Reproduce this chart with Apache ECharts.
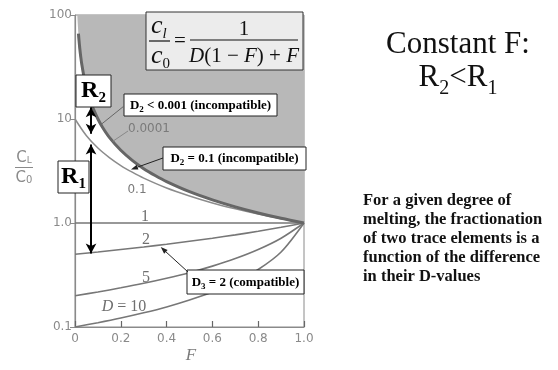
<!DOCTYPE html>
<html>
<head>
<meta charset="utf-8">
<script src="https://cdn.jsdelivr.net/npm/echarts@6/dist/echarts.min.js"></script>
<style>
  html, body { margin: 0; padding: 0; background: #fff; }
  #chart { width: 558px; height: 370px; }
</style>
</head>
<body>
<div id="chart"></div>
<script>
// Melt fraction F and C_L/C_0 for batch melting, one array per bulk D
const fSteep   = [0.015, 0.02, 0.025, 0.03, 0.04, 0.05, 0.06, 0.07, 0.08, 0.1, 0.12, 0.15, 0.2, 0.25, 0.3, 0.35, 0.4, 0.5, 0.6, 0.7, 0.8, 0.9, 1.0];
const dTiny    = [66.2, 49.8, 39.8, 33.2, 24.9, 20.0, 16.6, 14.3, 12.5, 9.99, 8.33, 6.66, 5.00, 4.00, 3.33, 2.86, 2.50, 2.00, 1.67, 1.43, 1.25, 1.11, 1.00];   // D = 0.0001
const dSmall   = [62.6, 47.7, 38.5, 32.3, 24.4, 19.6, 16.4, 14.1, 12.4, 9.91, 8.27, 6.63, 4.98, 3.99, 3.33, 2.85, 2.50, 2.00, 1.67, 1.43, 1.25, 1.11, 1.00];   // D = 0.001
const fTenth   = [0, 0.05, 0.1, 0.15, 0.2, 0.25, 0.3, 0.4, 0.5, 0.6, 0.7, 0.8, 0.9, 1.0];
const dTenth   = [10, 6.90, 5.26, 4.26, 3.57, 3.08, 2.70, 2.17, 1.82, 1.56, 1.37, 1.22, 1.10, 1.00];  // D = 0.1
const fUnit    = [0, 0.1, 0.2, 0.3, 0.4, 0.5, 0.6, 0.7, 0.8, 0.9, 1.0];
const dOne     = [1, 1, 1, 1, 1, 1, 1, 1, 1, 1, 1];
const dTwo     = [0.500, 0.526, 0.556, 0.588, 0.625, 0.667, 0.714, 0.769, 0.833, 0.909, 1.000];
const dFive    = [0.200, 0.217, 0.238, 0.263, 0.294, 0.333, 0.385, 0.455, 0.556, 0.714, 1.000];
const dTen     = [0.100, 0.110, 0.122, 0.137, 0.156, 0.182, 0.217, 0.270, 0.357, 0.526, 1.000];
// upper limit of C_L/C_0 (forbidden field above it)
const fLimit   = [0.01].concat(fSteep);
const dLimit   = [99.0].concat(dTiny);
// axis ticks
const xTicks   = ['0', '0.2', '0.4', '0.6', '0.8', '1.0'];
const yTicks   = { 0.1: '0.1', 1: '1.0', 10: '10', 100: '100' };
// fractionation spans at one melt fraction
const spanF    = 0.07;
const spanR2   = [13.0, 7.2];
const spanR1   = [5.7, 0.51];

const pairs = (xs, ys) => xs.map((x, i) => [x, ys[i]]);

const chart = echarts.init(document.getElementById('chart'), null, { renderer: 'canvas' });

const AX = '#8a8a8a';
const CURVE = '#777';

const curve = (data, color, width, z) => ({
  type: 'line', data, smooth: 0.3, showSymbol: false,
  symbol: 'none', silent: true, z: z || 3,
  lineStyle: { color, width }
});

chart.setOption({
  animation: false,
  grid: { left: 75, right: 254, top: 15, bottom: 43, show: true, borderColor: '#8a8a8a', borderWidth: 1, backgroundColor: 'transparent' },
  xAxis: {
    type: 'value', min: 0, max: 1, interval: 0.2,
    axisLine: { show: true, lineStyle: { color: AX, width: 1.2 } },
    axisTick: { show: true, inside: true, length: 6, lineStyle: { color: '#666', width: 1.2 } },
    splitLine: { show: false },
    axisLabel: { color: AX, fontFamily: 'DejaVu Sans', fontSize: 12, margin: 6,
      formatter: v => xTicks[Math.round(v * 5)] }
  },
  yAxis: {
    type: 'log', logBase: 10, min: 0.1, max: 100,
    axisLine: { show: true, lineStyle: { color: AX, width: 1.2 } },
    axisTick: { show: true, inside: false, length: 5, lineStyle: { color: AX } },
    splitLine: { show: false },
    minorTick: { show: false },
    axisLabel: { color: AX, fontFamily: 'DejaVu Sans', fontSize: 12, margin: 3,
      formatter: v => yTicks[Math.round(v * 10) / 10] || '' }
  },
  series: [
    { type: 'line', data: pairs(fLimit, dLimit), smooth: 0.3, showSymbol: false,
      symbol: 'none', silent: true, z: 1,
      lineStyle: { width: 0 },
      areaStyle: { origin: 'end', color: '#b8b8b8', opacity: 1 } },
    curve(pairs(fSteep, dSmall), '#9a9a9a', 1.4, 3),
    curve(pairs(fSteep, dTiny), '#666', 3, 4),
    curve(pairs(fTenth, dTenth), '#8c8c8c', 1.5),
    curve(pairs(fUnit, dOne), CURVE, 1.6),
    curve(pairs(fUnit, dTwo), CURVE, 1.6),
    curve(pairs(fUnit, dFive), CURVE, 1.6),
    Object.assign(curve(pairs(fUnit, dTen), CURVE, 1.6), {
      markLine: {
        silent: true, symbol: ['arrow', 'arrow'], symbolSize: [8, 10],
        label: { show: false },
        lineStyle: { color: '#000', width: 2, type: 'solid' },
        data: [
          [{ coord: [spanF, spanR2[0]] }, { coord: [spanF, spanR2[1]] }],
          [{ coord: [spanF, spanR1[0]] }, { coord: [spanF, spanR1[1]] }]
        ]
      }
    })
  ]
});

// ---- annotations ----
const ctx = document.createElement('canvas').getContext('2d');
function measure(str, font) { ctx.font = font; return ctx.measureText(str).width; }
function fontOf(o) {
  return (o.style || '') + ' ' + (o.weight || '') + ' ' + o.size + 'px ' + (o.family || '"Liberation Serif"');
}
// lay out runs of text along one baseline; runs: {t, size, style, weight, family, dy}
function runs(list, x, baseline, align, color) {
  const widths = list.map(r => measure(r.t, fontOf(r)) + (r.gap || 0));
  const total = widths.reduce((a, b) => a + b, 0);
  let cx = align === 'center' ? x - total / 2 : (align === 'right' ? x - total : x);
  const out = [];
  list.forEach((r, i) => {
    out.push({
      type: 'text', z: 120, silent: true,
      x: cx + (r.pre || 0), y: baseline + (r.dy || 0) - 0.33 * r.size,
      style: { text: r.t, font: fontOf(r), fill: r.color || color, align: 'left', verticalAlign: 'middle' }
    });
    cx += widths[i];
  });
  return out;
}
function box(x, y, w, h, fill, stroke) {
  return { type: 'rect', z: 110, silent: true, shape: { x, y, width: w, height: h },
    style: { fill: fill || '#fff', stroke: stroke || '#222', lineWidth: 1 } };
}
function line(x1, y1, x2, y2, color, width) {
  return { type: 'line', z: 115, silent: true, shape: { x1, y1, x2, y2 },
    style: { stroke: color, lineWidth: width || 1 } };
}
function arrowLine(x1, y1, x2, y2, color) {
  const a = Math.atan2(y2 - y1, x2 - x1), L = 7, W = 2.6;
  const bx = x2 - L * Math.cos(a), by = y2 - L * Math.sin(a);
  const px = -Math.sin(a) * W, py = Math.cos(a) * W;
  return [
    line(x1, y1, bx, by, color, 1),
    { type: 'polygon', z: 115, silent: true,
      shape: { points: [[x2, y2], [bx + px, by + py], [bx - px, by - py]] },
      style: { fill: color } }
  ];
}
const px = (f, v) => chart.convertToPixel({ gridIndex: 0 }, [f, v]);

const G = [];
const SANS = '"DejaVu Sans"';

// formula box
G.push(box(146, 12, 157, 58, '#ececec', '#333'));
G.push(...runs([{ t: 'c', size: 26, style: 'italic' }, { t: 'l', size: 15, style: 'italic', dy: 4 }], 151, 35, 'left', '#111'));
G.push(line(149, 41, 170, 41, '#111', 1.2));
G.push(...runs([{ t: 'c', size: 26, style: 'italic' }, { t: '0', size: 15, dy: 4 }], 151, 65, 'left', '#111'));
G.push(...runs([{ t: '=', size: 21 }], 174, 48, 'left', '#111'));
G.push(...runs([{ t: '1', size: 21 }], 244, 36, 'center', '#111'));
G.push(line(190, 40, 298, 40, '#111', 1.2));
G.push(...runs([
  { t: 'D', size: 21, style: 'italic' }, { t: '(1 \u2212 ', size: 21 }, { t: 'F', size: 21, style: 'italic' },
  { t: ') + ', size: 21 }, { t: 'F', size: 21, style: 'italic' }
], 244, 63, 'center', '#111'));

// R2 / R1 labels
G.push(box(76, 75, 35, 32));
G.push(...runs([{ t: 'R', size: 24, weight: 'bold' }, { t: '2', size: 15, weight: 'bold', dy: 4 }], 93.5, 99, 'center', '#000'));
G.push(box(58, 161, 31, 32));
G.push(...runs([{ t: 'R', size: 24, weight: 'bold' }, { t: '1', size: 15, weight: 'bold', dy: 4 }], 73.5, 185, 'center', '#000'));

// callout boxes
function callout(x, y, w, h, parts) {
  G.push(box(x, y, w, h));
  G.push(...runs(parts, x + w / 2, y + h / 2 + 4.5, 'center', '#000'));
}
const B = (t, extra) => Object.assign({ t, size: 13, weight: 'bold' }, extra || {});
callout(124, 94, 153, 22, [B('D'), B('2', { size: 9, dy: 3 }), B(' < 0.001 (incompatible)')]);
callout(163, 147, 143, 23, [B('D'), B('2', { size: 9, dy: 3 }), B(' = 0.1 (incompatible)')]);
callout(187, 270, 117, 24, [B('D'), B('3', { size: 9, dy: 3 }), B(' = 2 (compatible)')]);

// leaders to the curves
let p = px(0.115, 8.9);
G.push(line(124, 106, p[0], p[1], '#666', 1));
p = px(0.165, 6.1);
G.push(line(128, 131, p[0], p[1], '#888', 1));
p = px(0.24, 3.2);
G.push(...arrowLine(163, 158, p[0] + 1, p[1] - 1, '#222'));
p = px(0.37, 0.613);
G.push(...arrowLine(188, 272, p[0] + 1, p[1] + 2, '#222'));

// curve labels
G.push(...runs([{ t: '0.0001', size: 12, family: SANS }], 149, 133, 'center', '#7a7a7a'));
G.push(...runs([{ t: '0.1', size: 12, family: SANS }], 137, 194, 'center', '#7a7a7a'));
G.push(...runs([{ t: '1', size: 16 }], 145, 222, 'center', '#6f6f6f'));
G.push(...runs([{ t: '2', size: 16 }], 146, 245, 'center', '#6f6f6f'));
G.push(...runs([{ t: '5', size: 16 }], 146, 283, 'center', '#6f6f6f'));
G.push(...runs([{ t: 'D', size: 16, style: 'italic' }, { t: ' = 10', size: 16 }], 124, 312, 'center', '#6f6f6f'));

// axis titles
G.push(...runs([{ t: 'C', size: 15, family: SANS }, { t: 'L', size: 9, family: SANS, dy: 1 }], 24, 163, 'center', '#8a8a8a'));
G.push(line(15, 167.5, 33, 167.5, '#8a8a8a', 1));
G.push(...runs([{ t: 'C', size: 15, family: SANS }, { t: '0', size: 10, family: SANS, dy: 1 }], 24, 183, 'center', '#8a8a8a'));
G.push(...runs([{ t: 'F', size: 17, style: 'italic' }], 191, 361, 'center', '#7a7a7a'));

// side text
G.push(...runs([{ t: 'Constant F:', size: 31 }], 458, 55, 'center', '#111'));
G.push(...runs([
  { t: 'R', size: 31 }, { t: '2', size: 20, dy: 7 }, { t: '<R', size: 31 }, { t: '1', size: 20, dy: 7 }
], 458, 88, 'center', '#111'));
const para = ['For a given degree of', 'melting, the fractionation', 'of two trace elements is a',
              'function of the difference', 'in their D-values'];
para.forEach((s, i) => {
  G.push(...runs([{ t: s, size: 16.5, weight: 'bold' }], 363, 206 + i * 19, 'left', '#111'));
});

chart.setOption({ graphic: { elements: G } });
</script>
</body>
</html>
